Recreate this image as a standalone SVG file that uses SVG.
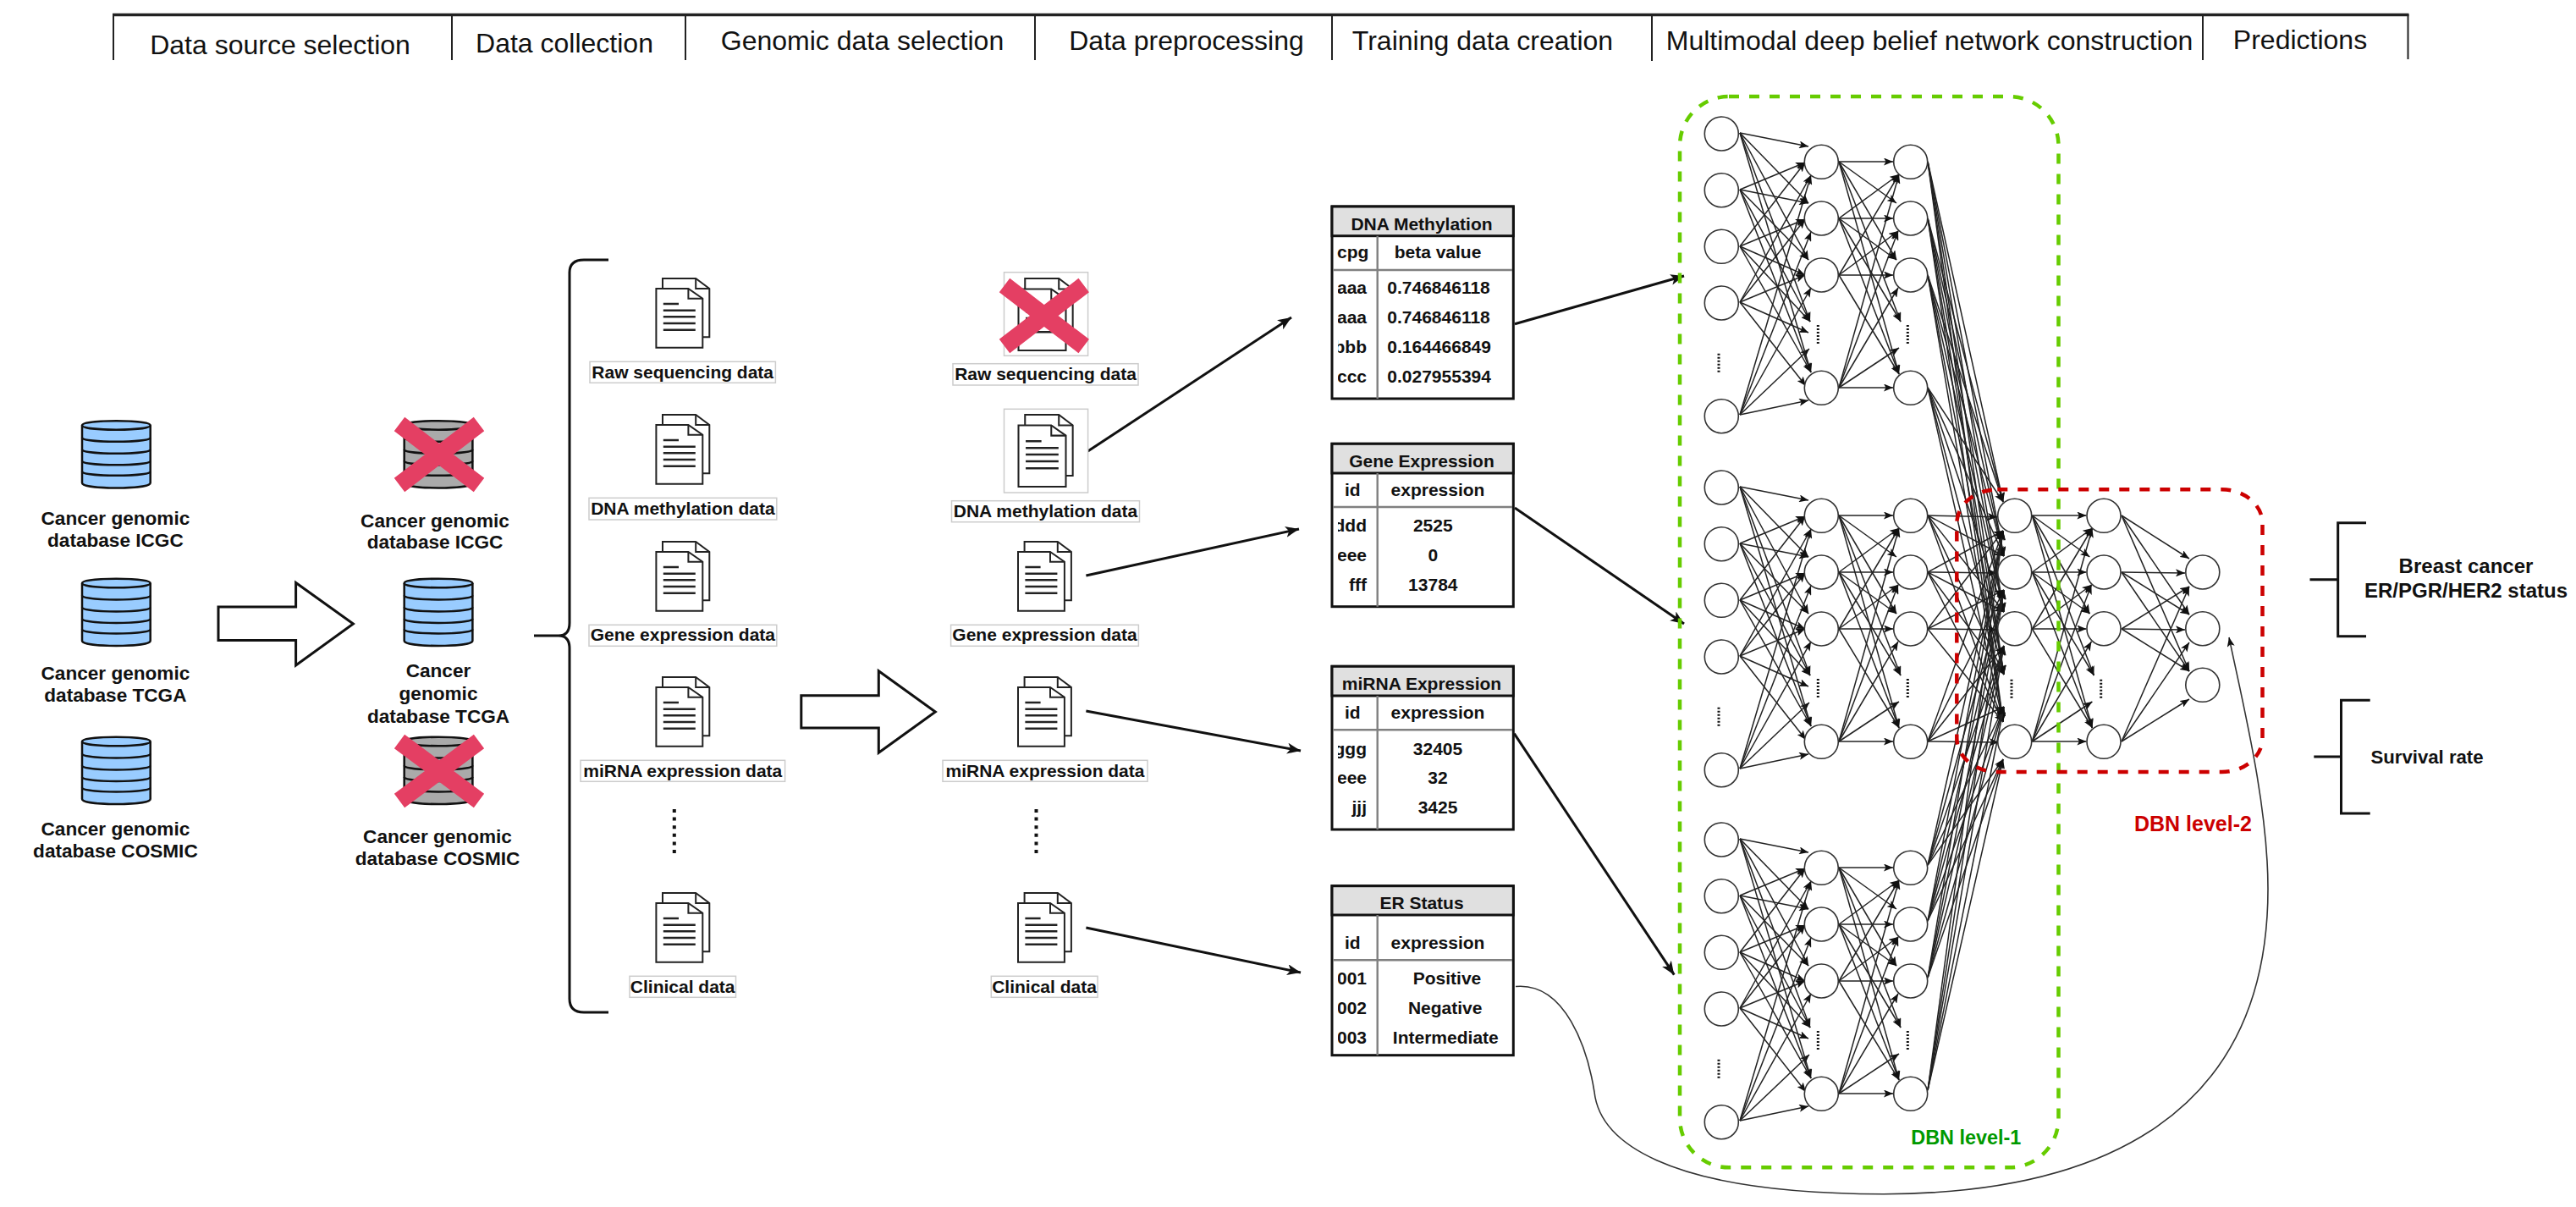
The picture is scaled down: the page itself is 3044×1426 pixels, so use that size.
<svg xmlns="http://www.w3.org/2000/svg" xmlns:xlink="http://www.w3.org/1999/xlink" width="3044" height="1426" viewBox="0 0 3044 1426">
<style>
text{font-family:"Liberation Sans",Arial,sans-serif;fill:#111}
.h{font-size:32px;text-anchor:middle}
.b{font-weight:bold}
.db{font-size:22.6px;font-weight:bold;text-anchor:middle}
.lb{font-size:21px;font-weight:bold;text-anchor:middle}
.t{font-size:21px;font-weight:bold;text-anchor:middle}
.r{font-size:21px;font-weight:bold;text-anchor:end}
.s{font-size:21px;font-weight:bold}
.frame{fill:#fff;stroke:#ccc;stroke-width:1.5}
.cyl{stroke:#111;stroke-width:2.5}
.cyl path{stroke-linejoin:round}
.blue{fill:#99ccff}
.gray{fill:#aaaaaa}
.nof{fill:none}
.xx{stroke:#e43f63;stroke-width:20.5;fill:none}
.doc{fill:#fff;stroke:#222;stroke-width:2}
.docl{fill:none;stroke:#222;stroke-width:2.4}
.vd{fill:none;stroke:#111;stroke-width:4;stroke-dasharray:4 5.6}
.vs{fill:none;stroke:#111;stroke-width:3;stroke-dasharray:2 2}
.e line{stroke:#222;stroke-width:1.5;marker-end:url(#a)}
.big{stroke:#111;stroke-width:3;fill:none;marker-end:url(#ab)}
.blk{fill:#fff;stroke:#111;stroke-width:3}
.n{fill:#fff;stroke:#333;stroke-width:1.6}
.tb{fill:#fff;stroke:#111;stroke-width:3}
.th{fill:#e0e0e0;stroke:#111;stroke-width:3}
.tg{stroke:#808080;stroke-width:2.4;fill:none}
.br{fill:none;stroke:#111;stroke-width:3}
.grn{fill:none;stroke:#66cc00;stroke-width:4.5;stroke-dasharray:12 12}
.red{fill:none;stroke:#cc0000;stroke-width:4.5;stroke-dasharray:12 12}
</style>
<defs>
<marker id="a" viewBox="0 0 11 9" refX="11" refY="4.5" markerWidth="11" markerHeight="9" markerUnits="userSpaceOnUse" orient="auto"><path d="M0 0L11 4.5L0 9L2.5 4.5Z" fill="#111"/></marker>
<marker id="ab" viewBox="0 0 16 13" refX="16" refY="6.5" markerWidth="16" markerHeight="13" markerUnits="userSpaceOnUse" orient="auto"><path d="M0 0L16 6.5L0 13L4 6.5Z" fill="#111"/></marker>
<clipPath id="cc"><rect x="1581" y="240" width="50" height="1010"/></clipPath>
<g id="cylinder" class="cyl"><path d="M0 6C0 -1 80.7 -1 80.7 6V74C80.7 82 0 82 0 74Z"/><path class="nof" d="M0 6C0 13 80.7 13 80.7 6M0 20.5C0 27 80.7 27 80.7 20.5M0 34.5C0 41 80.7 41 80.7 34.5M0 48C0 54.5 80.7 54.5 80.7 48M0 60.5C0 67 80.7 67 80.7 60.5"/></g>
<g id="doc"><path class="doc" d="M7.6 12V0H46.8L62.9 12V69.3H54.9"/><path class="doc nof" style="fill:none" d="M46.8 0V12H62.9"/><path class="doc" d="M0 12H38L54.9 23.7V81.7H0Z"/><path class="doc" style="fill:none" d="M38 12V23.7H54.9"/><path class="docl" d="M8.4 30H26.6M8.4 37.7H46.4M8.4 45.3H46.4M8.4 53H46.4M8.4 60.7H46.4"/></g>
<g id="edges-ab" class="e">
<line x1="2056" y1="157" x2="2137" y2="173"/>
<line x1="2056" y1="224" x2="2133" y2="192"/>
<line x1="2056" y1="291" x2="2133" y2="192"/>
<line x1="2056" y1="357" x2="2140" y2="207"/>
<line x1="2056" y1="490" x2="2140" y2="207"/>
<line x1="2056" y1="157" x2="2137" y2="240"/>
<line x1="2056" y1="224" x2="2137" y2="240"/>
<line x1="2056" y1="291" x2="2133" y2="259"/>
<line x1="2056" y1="357" x2="2133" y2="259"/>
<line x1="2056" y1="490" x2="2140" y2="274"/>
<line x1="2056" y1="157" x2="2137" y2="307"/>
<line x1="2056" y1="224" x2="2137" y2="307"/>
<line x1="2056" y1="291" x2="2133" y2="325"/>
<line x1="2056" y1="357" x2="2133" y2="325"/>
<line x1="2056" y1="490" x2="2140" y2="340"/>
<line x1="2056" y1="157" x2="2139" y2="380"/>
<line x1="2056" y1="224" x2="2139" y2="380"/>
<line x1="2056" y1="291" x2="2139" y2="380"/>
<line x1="2056" y1="357" x2="2137" y2="393"/>
<line x1="2056" y1="490" x2="2138" y2="412"/>
<line x1="2056" y1="157" x2="2140" y2="440"/>
<line x1="2056" y1="224" x2="2140" y2="440"/>
<line x1="2056" y1="291" x2="2140" y2="440"/>
<line x1="2056" y1="357" x2="2134" y2="456"/>
<line x1="2056" y1="490" x2="2137" y2="473"/>
</g>
<g id="edges-bc" class="e">
<line x1="2173" y1="191" x2="2237" y2="191"/>
<line x1="2173" y1="258" x2="2244" y2="206"/>
<line x1="2173" y1="325" x2="2244" y2="206"/>
<line x1="2173" y1="458" x2="2244" y2="206"/>
<line x1="2173" y1="191" x2="2241" y2="240"/>
<line x1="2173" y1="258" x2="2237" y2="258"/>
<line x1="2173" y1="325" x2="2243" y2="273"/>
<line x1="2173" y1="458" x2="2243" y2="273"/>
<line x1="2173" y1="191" x2="2241" y2="307"/>
<line x1="2173" y1="258" x2="2241" y2="307"/>
<line x1="2173" y1="325" x2="2237" y2="325"/>
<line x1="2173" y1="458" x2="2243" y2="340"/>
<line x1="2173" y1="191" x2="2246" y2="380"/>
<line x1="2173" y1="258" x2="2246" y2="380"/>
<line x1="2173" y1="458" x2="2244" y2="411"/>
<line x1="2173" y1="191" x2="2244" y2="442"/>
<line x1="2173" y1="258" x2="2244" y2="442"/>
<line x1="2173" y1="325" x2="2244" y2="442"/>
<line x1="2173" y1="458" x2="2237" y2="458"/>
</g>
<g id="net-nodes">
<circle class="n" cx="2034.3" cy="158" r="20"/><circle class="n" cx="2034.3" cy="224.7" r="20"/><circle class="n" cx="2034.3" cy="291.3" r="20"/><circle class="n" cx="2034.3" cy="358" r="20"/><circle class="n" cx="2034.3" cy="491.7" r="20"/>
<circle class="n" cx="2152.3" cy="191.3" r="20"/><circle class="n" cx="2152.3" cy="258" r="20"/><circle class="n" cx="2152.3" cy="325" r="20"/><circle class="n" cx="2152.3" cy="458.3" r="20"/>
<circle class="n" cx="2257.7" cy="191.3" r="20"/><circle class="n" cx="2257.7" cy="258" r="20"/><circle class="n" cx="2257.7" cy="325" r="20"/><circle class="n" cx="2257.7" cy="458.3" r="20"/>
<path class="vs" d="M2031 417.7V440M2148.3 384V407M2254.3 384V407"/>
</g>
</defs>
<rect width="3044" height="1426" fill="#fff"/>

<g id="header">
<path d="M133 17.5H2846.5" stroke="#222" stroke-width="3.5" fill="none"/>
<path d="M134 17V71M534 17V71M810 17V71M1223 17V71M1574 17V71M1952 17V72M2603 17V71M2845.5 17V70" stroke="#222" stroke-width="2" fill="none"/>
<text class="h" x="331" y="64">Data source selection</text>
<text class="h" x="667" y="62">Data collection</text>
<text class="h" x="1019" y="59">Genomic data selection</text>
<text class="h" x="1402" y="59">Data preprocessing</text>
<text class="h" x="1752" y="59">Training data creation</text>
<text class="h" x="2280" y="59">Multimodal deep belief network construction</text>
<text class="h" x="2718" y="58">Predictions</text>
</g>

<g id="connectors">
<path class="blk" d="M258 717H349.6V688.5L417.4 737L349.6 786V756.6H258Z"/>
<path class="blk" d="M946.8 821.7H1038.3V792.7L1105.3 841L1038.3 889.3V860H946.8Z"/>
<path class="br" d="M719 307H690Q673 307 673 322V736Q673 751 660 751H631M660 751Q673 751 673 766V1180Q673 1196 690 1196H719"/>
<path class="big" d="M1285.6 533L1526 375"/>
<path class="big" d="M1283.4 680L1535 625"/>
<path class="big" d="M1283.4 840L1537 887"/>
<path class="big" d="M1283.4 1096L1537 1149"/>
<path class="big" d="M1790 382.7L1990 326"/>
<path class="big" d="M1790 600L1990 737"/>
<path class="big" d="M1789.3 866.7L1978.3 1151.7"/>
<path d="M1791 1165.5C1850 1160 1876 1240 1884 1290C1890 1345 1960 1410 2226 1410.7C2480 1410 2680 1320 2680 1050C2680 950 2650 830 2634 753" fill="none" stroke="#333" stroke-width="1.6" marker-end="url(#a)"/>
<use href="#edges-ab"/><use href="#edges-bc"/>
<use href="#edges-ab" y="418"/><use href="#edges-bc" y="418"/>
<use href="#edges-ab" y="834"/><use href="#edges-bc" y="834"/>
<use href="#edges-bc" x="228.4" y="418"/>
<g class="e">
<line x1="2278" y1="191" x2="2367" y2="593"/><line x1="2278" y1="258" x2="2367" y2="593"/><line x1="2278" y1="325" x2="2367" y2="593"/><line x1="2278" y1="458" x2="2367" y2="593"/>
<line x1="2278" y1="191" x2="2368" y2="657"/><line x1="2278" y1="258" x2="2368" y2="657"/><line x1="2278" y1="325" x2="2368" y2="657"/><line x1="2278" y1="458" x2="2368" y2="657"/>
<line x1="2278" y1="191" x2="2368" y2="723"/><line x1="2278" y1="258" x2="2368" y2="723"/><line x1="2278" y1="325" x2="2368" y2="723"/><line x1="2278" y1="458" x2="2368" y2="723"/>
<line x1="2278" y1="191" x2="2368" y2="797"/><line x1="2278" y1="258" x2="2368" y2="797"/><line x1="2278" y1="325" x2="2368" y2="797"/><line x1="2278" y1="458" x2="2368" y2="797"/>
<line x1="2278" y1="191" x2="2367" y2="853"/><line x1="2278" y1="258" x2="2367" y2="853"/><line x1="2278" y1="325" x2="2367" y2="853"/><line x1="2278" y1="458" x2="2367" y2="853"/>
<line x1="2278" y1="609" x2="2360" y2="610.7"/><line x1="2278" y1="676" x2="2367" y2="627"/><line x1="2278" y1="743" x2="2367" y2="627"/><line x1="2278" y1="876" x2="2367" y2="627"/>
<line x1="2278" y1="609" x2="2368" y2="657"/><line x1="2278" y1="676" x2="2360" y2="677"/><line x1="2278" y1="743" x2="2368" y2="697"/><line x1="2278" y1="876" x2="2368" y2="697"/>
<line x1="2278" y1="609" x2="2368" y2="723"/><line x1="2278" y1="676" x2="2368" y2="723"/><line x1="2278" y1="743" x2="2360" y2="744"/><line x1="2278" y1="876" x2="2368" y2="763"/>
<line x1="2278" y1="609" x2="2368" y2="797"/><line x1="2278" y1="676" x2="2368" y2="797"/><line x1="2278" y1="876" x2="2368" y2="835"/>
<line x1="2278" y1="609" x2="2367" y2="853"/><line x1="2278" y1="676" x2="2367" y2="853"/><line x1="2278" y1="743" x2="2367" y2="853"/><line x1="2278" y1="876" x2="2362" y2="877"/>
<line x1="2278" y1="1022" x2="2367" y2="627"/><line x1="2278" y1="1088" x2="2367" y2="627"/><line x1="2278" y1="1155" x2="2367" y2="627"/><line x1="2278" y1="1288" x2="2367" y2="627"/>
<line x1="2278" y1="1022" x2="2368" y2="697"/><line x1="2278" y1="1088" x2="2368" y2="697"/><line x1="2278" y1="1155" x2="2368" y2="697"/><line x1="2278" y1="1288" x2="2368" y2="697"/>
<line x1="2278" y1="1022" x2="2368" y2="763"/><line x1="2278" y1="1088" x2="2368" y2="763"/><line x1="2278" y1="1155" x2="2368" y2="763"/><line x1="2278" y1="1288" x2="2368" y2="763"/>
<line x1="2278" y1="1022" x2="2368" y2="835"/><line x1="2278" y1="1088" x2="2368" y2="835"/><line x1="2278" y1="1155" x2="2368" y2="835"/><line x1="2278" y1="1288" x2="2368" y2="835"/>
<line x1="2278" y1="1022" x2="2367" y2="897"/><line x1="2278" y1="1088" x2="2367" y2="897"/><line x1="2278" y1="1155" x2="2367" y2="897"/><line x1="2278" y1="1288" x2="2367" y2="897"/>
<line x1="2507" y1="609" x2="2587" y2="660"/><line x1="2507" y1="676" x2="2582" y2="677"/><line x1="2507" y1="743" x2="2587" y2="693"/><line x1="2507" y1="876" x2="2587" y2="693"/>
<line x1="2507" y1="609" x2="2587" y2="726"/><line x1="2507" y1="676" x2="2587" y2="726"/><line x1="2507" y1="743" x2="2582" y2="744"/><line x1="2507" y1="876" x2="2587" y2="759"/>
<line x1="2507" y1="609" x2="2587" y2="793"/><line x1="2507" y1="676" x2="2587" y2="793"/><line x1="2507" y1="743" x2="2587" y2="793"/><line x1="2507" y1="876" x2="2587" y2="826"/>
</g>
</g>

<g id="db-source-icgc"><use href="#cylinder" class="blue" x="97" y="496.4"/><text class="db" x="136.4" y="620">Cancer genomic</text><text class="db" x="136.4" y="646.4">database ICGC</text></g>
<g id="db-source-tcga"><use href="#cylinder" class="blue" x="97" y="683"/><text class="db" x="136.4" y="802.5">Cancer genomic</text><text class="db" x="136.4" y="829">database TCGA</text></g>
<g id="db-source-cosmic"><use href="#cylinder" class="blue" x="97" y="870"/><text class="db" x="136.4" y="986.6">Cancer genomic</text><text class="db" x="136.4" y="1013">database COSMIC</text></g>
<g id="db-selected-icgc"><use href="#cylinder" class="gray" x="477.7" y="496.4"/><path class="xx" d="M472 501L566 573M566 501L472 573"/><text class="db" x="514" y="622.6">Cancer genomic</text><text class="db" x="514" y="648.3">database ICGC</text></g>
<g id="db-selected-tcga"><use href="#cylinder" class="blue" x="477.7" y="683"/><text class="db" x="518" y="799.8">Cancer</text><text class="db" x="518" y="826.6">genomic</text><text class="db" x="518" y="854">database TCGA</text></g>
<g id="db-selected-cosmic"><use href="#cylinder" class="gray" x="477.7" y="870"/><path class="xx" d="M472 876L566 946M566 876L472 946"/><text class="db" x="517" y="995.8">Cancer genomic</text><text class="db" x="517" y="1021.8">database COSMIC</text></g>

<g id="doc1-raw"><use href="#doc" x="775.4" y="329"/><rect class="frame" x="697" y="427.3" width="219.4" height="25"/><text class="lb" x="806.7" y="446.7">Raw sequencing data</text></g>
<g id="doc1-dna"><use href="#doc" x="775.4" y="490"/><rect class="frame" x="696" y="588.3" width="221.8" height="25.7"/><text class="lb" x="806.9" y="608">DNA methylation data</text></g>
<g id="doc1-gene"><use href="#doc" x="775.4" y="640"/><rect class="frame" x="696" y="738.3" width="221.8" height="25"/><text class="lb" x="806.9" y="757">Gene expression data</text></g>
<g id="doc1-mirna"><use href="#doc" x="775.4" y="800"/><rect class="frame" x="686" y="898.3" width="241.6" height="25"/><text class="lb" x="806.8" y="918">miRNA expression data</text></g>
<path id="doc1-dots" class="vd" d="M796.8 956V1008"/>
<g id="doc1-clinical"><use href="#doc" x="775.4" y="1055"/><rect class="frame" x="744" y="1153.3" width="125.5" height="25"/><text class="lb" x="806.7" y="1172.7">Clinical data</text></g>

<g id="doc2-raw"><rect class="frame" x="1186.5" y="321.7" width="99.1" height="98.6"/><use href="#doc" transform="translate(1203.5 329) scale(1.02 1.04)"/><path class="xx" d="M1187 337L1280.7 409M1280.7 337L1187 409"/><rect class="frame" x="1126" y="429.7" width="219" height="25.3"/><text class="lb" x="1235.5" y="449">Raw sequencing data</text></g>
<g id="doc2-dna"><rect class="frame" x="1186.5" y="483.3" width="99.1" height="98.7"/><use href="#doc" transform="translate(1203.5 490) scale(1.02 1.04)"/><rect class="frame" x="1124.5" y="591.7" width="222" height="25"/><text class="lb" x="1235.5" y="611">DNA methylation data</text></g>
<g id="doc2-gene"><use href="#doc" x="1203" y="640"/><rect class="frame" x="1123.6" y="738.3" width="221.8" height="25"/><text class="lb" x="1234.5" y="757">Gene expression data</text></g>
<g id="doc2-mirna"><use href="#doc" x="1203" y="800"/><rect class="frame" x="1114" y="898.3" width="242" height="25"/><text class="lb" x="1235" y="918">miRNA expression data</text></g>
<path id="doc2-dots" class="vd" d="M1224.5 956V1008"/>
<g id="doc2-clinical"><use href="#doc" x="1203" y="1055"/><rect class="frame" x="1171.3" y="1153.3" width="125.7" height="25"/><text class="lb" x="1234" y="1172.7">Clinical data</text></g>

<g id="table-dna">
<rect class="tb" x="1574" y="244" width="214.3" height="227"/><rect class="th" x="1574" y="244" width="214.3" height="34.7"/>
<path class="tg" d="M1627.7 278.7V471M1575 319H1787"/>
<text class="t" x="1680" y="271.7">DNA Methylation</text>
<text class="t" x="1598.7" y="305">cpg</text><text class="t" x="1699" y="305">beta value</text>
<g clip-path="url(#cc)"><text class="r" x="1615" y="347.3">aaa</text><text class="r" x="1615" y="382.3">aaa</text><text class="r" x="1615" y="416.7">bbb</text><text class="r" x="1615" y="451.7">ccc</text></g>
<text class="s" x="1639.3" y="347.3">0.746846118</text><text class="s" x="1639.3" y="382.3">0.746846118</text><text class="s" x="1639.3" y="416.7">0.164466849</text><text class="s" x="1639.3" y="451.7">0.027955394</text>
</g>
<g id="table-gene">
<rect class="tb" x="1574" y="524.3" width="214.3" height="192.4"/><rect class="th" x="1574" y="524.3" width="214.3" height="34.7"/>
<path class="tg" d="M1627.7 559V716.7M1575 599H1787"/>
<text class="t" x="1680" y="552.3">Gene Expression</text>
<text class="t" x="1598.3" y="585.7">id</text><text class="t" x="1699" y="585.7">expression</text>
<g clip-path="url(#cc)"><text class="r" x="1615" y="628.3">ddd</text><text class="r" x="1615" y="663.3">eee</text><text class="r" x="1615" y="697.7">fff</text></g>
<text class="t" x="1693.3" y="628.3">2525</text><text class="t" x="1693.3" y="663.3">0</text><text class="t" x="1693.3" y="697.7">13784</text>
</g>
<g id="table-mirna">
<rect class="tb" x="1574" y="787.3" width="214.3" height="192.7"/><rect class="th" x="1574" y="787.3" width="214.3" height="34.7"/>
<path class="tg" d="M1627.7 822V980M1575 862.3H1787"/>
<text class="t" x="1680" y="815">miRNA Expression</text>
<text class="t" x="1598.3" y="849">id</text><text class="t" x="1699" y="849">expression</text>
<g clip-path="url(#cc)"><text class="r" x="1615" y="891.7">ggg</text><text class="r" x="1615" y="925.7">eee</text><text class="r" x="1615" y="961">jjj</text></g>
<text class="t" x="1699" y="891.7">32405</text><text class="t" x="1699" y="925.7">32</text><text class="t" x="1699" y="961">3425</text>
</g>
<g id="table-er">
<rect class="tb" x="1574" y="1046.7" width="214.3" height="200"/><rect class="th" x="1574" y="1046.7" width="214.3" height="34.3"/>
<path class="tg" d="M1627.7 1081V1246.7M1575 1134.3H1787"/>
<text class="t" x="1680" y="1074.3">ER Status</text>
<text class="t" x="1598.3" y="1121">id</text><text class="t" x="1699" y="1121">expression</text>
<g clip-path="url(#cc)"><text class="r" x="1615" y="1163.3">001</text><text class="r" x="1615" y="1198.3">002</text><text class="r" x="1615" y="1232.7">003</text></g>
<text class="t" x="1710" y="1163.3">Positive</text><text class="t" x="1707.7" y="1198.3">Negative</text><text class="t" x="1708.3" y="1232.7">Intermediate</text>
</g>

<g id="dbn-block-1"><use href="#net-nodes"/></g>
<g id="dbn-block-2"><use href="#net-nodes" y="418"/></g>
<g id="dbn-block-3"><use href="#net-nodes" y="834"/></g>
<g id="dbn-level2-layer1"><circle class="n" cx="2380.7" cy="609.3" r="20"/><circle class="n" cx="2380.7" cy="676" r="20"/><circle class="n" cx="2380.7" cy="742.7" r="20"/><circle class="n" cx="2380.7" cy="876.3" r="20"/><path class="vs" d="M2377 802.7V825"/></g>
<g id="dbn-level2-layer2"><circle class="n" cx="2486" cy="609.3" r="20"/><circle class="n" cx="2486" cy="676" r="20"/><circle class="n" cx="2486" cy="742.7" r="20"/><circle class="n" cx="2486" cy="876.3" r="20"/><path class="vs" d="M2482.7 802.7V825"/></g>
<g id="dbn-level2-output"><circle class="n" cx="2602.8" cy="676" r="20"/><circle class="n" cx="2602.8" cy="742.7" r="20"/><circle class="n" cx="2602.8" cy="809.3" r="20"/></g>

<g id="dbn-level-1"><rect class="grn" x="1985" y="114" width="447.5" height="1265.3" rx="58" ry="58"/><text class="b" x="2258.3" y="1352.3" style="font-size:23.4px;fill:#009900">DBN level-1</text></g>
<g id="dbn-level-2"><rect class="red" x="2312.3" y="578.3" width="361.2" height="333.7" rx="48" ry="40"/><text class="b" x="2522" y="981.7" style="font-size:25px;fill:#cc0000">DBN level-2</text></g>

<g id="out-status"><path class="br" d="M2796 617.7H2762.7V751.7H2796M2729.5 684.7H2762.7"/><text class="b" x="2914" y="677.3" text-anchor="middle" style="font-size:24px">Breast cancer</text><text class="b" x="2914" y="705.7" text-anchor="middle" style="font-size:24px">ER/PGR/HER2 status</text></g>
<g id="out-survival"><path class="br" d="M2800.7 827.3H2766.5V961H2800.7M2734.3 894H2766.5"/><text class="b" x="2868" y="901.7" text-anchor="middle" style="font-size:22.2px">Survival rate</text></g>
</svg>
